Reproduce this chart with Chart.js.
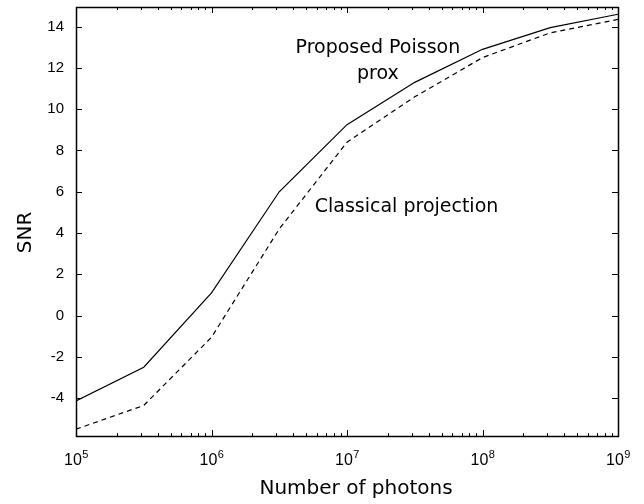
<!DOCTYPE html>
<html>
<head>
<meta charset="utf-8">
<script src="https://cdn.jsdelivr.net/npm/chart.js@4.4.1/dist/chart.umd.min.js"></script>
<style>
  html, body { margin: 0; padding: 0; background: #fff; }
  #snrChart { display: block; }
</style>
</head>
<body>
<canvas id="snrChart" width="644" height="504"></canvas>
<script>
// Number of photons (half-decade steps)
const photons = [1e5, 3.162e5, 1e6, 3.162e6, 1e7, 3.162e7, 1e8, 3.162e8, 1e9];
// SNR curves
const snrPoissonProx = [-4.13, -2.5, 1.1, 6.0, 9.25, 11.3, 12.9, 13.95, 14.6];
const snrClassical = [-5.5, -4.35, -1.05, 4.2, 8.4, 10.6, 12.5, 13.7, 14.35];
// ticks
const yTicks = [-4, -2, 0, 2, 4, 6, 8, 10, 12, 14];
const xExponents = [5, 6, 7, 8, 9];

document.addEventListener('DOMContentLoaded', function() {
    const ctx = document.getElementById('snrChart').getContext('2d');

    // gnuplot-like frame, inward ticks, superscript x labels, titles and curve labels
    const framePlugin = {
        id: 'frame',
        afterDraw(chart) {
            const c = chart.ctx;
            const area = chart.chartArea;
            const xs = chart.scales.x;
            const ys = chart.scales.y;
            c.save();
            c.strokeStyle = '#000';
            c.lineWidth = 1;
            c.beginPath();
            // y ticks, left and right
            yTicks.forEach(function(v) {
                const py = Math.round(ys.getPixelForValue(v)) + 0.5;
                c.moveTo(area.left, py); c.lineTo(area.left + 6, py);
                c.moveTo(area.right, py); c.lineTo(area.right - 6, py);
            });
            // x ticks, bottom and top (major + minor)
            for (let e = 5; e <= 9; e++) {
                for (let m = 1; m <= 9; m++) {
                    const v = m * Math.pow(10, e);
                    if (v > 1e9) break;
                    const px = Math.round(xs.getPixelForValue(v)) + 0.5;
                    const len = m === 1 ? 6 : 3;
                    c.moveTo(px, area.bottom); c.lineTo(px, area.bottom - len);
                    c.moveTo(px, area.top); c.lineTo(px, area.top + len);
                }
            }
            c.stroke();
            c.lineWidth = 1.5;
            c.strokeRect(Math.round(area.left) + 0.5, Math.round(area.top) + 0.5,
                Math.round(area.right - area.left), Math.round(area.bottom - area.top));

            // x tick labels 10^n
            c.fillStyle = '#000';
            c.textBaseline = 'alphabetic';
            c.textAlign = 'left';
            xExponents.forEach(function(e) {
                const px = xs.getPixelForValue(Math.pow(10, e));
                c.font = '16px "Liberation Sans", Arial, sans-serif';
                const w1 = c.measureText('10').width;
                c.font = '11px "Liberation Sans", Arial, sans-serif';
                const w2 = c.measureText(String(e)).width;
                const x0 = px - (w1 + w2) / 2;
                c.font = '16px "Liberation Sans", Arial, sans-serif';
                c.fillText('10', x0, 465);
                c.font = '11px "Liberation Sans", Arial, sans-serif';
                c.fillText(String(e), x0 + w1 + 0.5, 458);
            });

            // axis titles
            c.font = '20px "DejaVu Sans", sans-serif';
            c.textAlign = 'center';
            c.textBaseline = 'middle';
            c.fillText('Number of photons', (area.left + area.right) / 2 + 9, 489);
            c.save();
            c.translate(26, (area.top + area.bottom) / 2 + 11);
            c.rotate(-Math.PI / 2);
            c.fillText('SNR', 0, 0);
            c.restore();

            // curve labels
            c.font = '19px "DejaVu Sans", sans-serif';
            c.fillText('Proposed Poisson', xs.getPixelForValue(1.69e7), ys.getPixelForValue(12.96));
            c.fillText('prox', xs.getPixelForValue(1.69e7), ys.getPixelForValue(11.7));
            c.fillText('Classical projection', xs.getPixelForValue(2.75e7), ys.getPixelForValue(5.26));
            c.restore();
        }
    };

    new Chart(ctx, {
        type: 'line',
        data: {
            labels: photons,
            datasets: [{
                label: 'Proposed Poisson prox',
                data: snrPoissonProx,
                borderColor: '#000',
                borderWidth: 1.2,
                pointRadius: 0,
                fill: false,
                tension: 0
            }, {
                label: 'Classical projection',
                data: snrClassical,
                borderColor: '#000',
                borderWidth: 1.2,
                borderDash: [5, 4],
                pointRadius: 0,
                fill: false,
                tension: 0
            }]
        },
        options: {
            responsive: false,
            animation: false,
            devicePixelRatio: 1,
            layout: { padding: { top: 7, right: 26, left: 0, bottom: 0 } },
            plugins: {
                legend: { display: false },
                tooltip: { enabled: false }
            },
            scales: {
                x: {
                    type: 'logarithmic',
                    min: 1e5,
                    max: 1e9,
                    grid: { display: false, drawTicks: false },
                    border: { display: false },
                    ticks: { display: false },
                    afterFit(scale) {
                        scale.height = 68;
                        scale.paddingLeft = 0;
                        scale.paddingRight = 0;
                    }
                },
                y: {
                    min: -5.83,
                    max: 14.95,
                    grid: { display: false, drawTicks: false },
                    border: { display: false },
                    afterBuildTicks(scale) {
                        scale.ticks = yTicks.map(function(v) { return { value: v }; });
                    },
                    ticks: {
                        color: '#000',
                        padding: 12,
                        font: { family: '"Liberation Sans", Arial, sans-serif', size: 15 }
                    },
                    afterFit(scale) {
                        scale.width = 76;
                        scale.paddingTop = 0;
                        scale.paddingBottom = 0;
                    }
                }
            }
        },
        plugins: [framePlugin]
    });
});
</script>
</body>
</html>
